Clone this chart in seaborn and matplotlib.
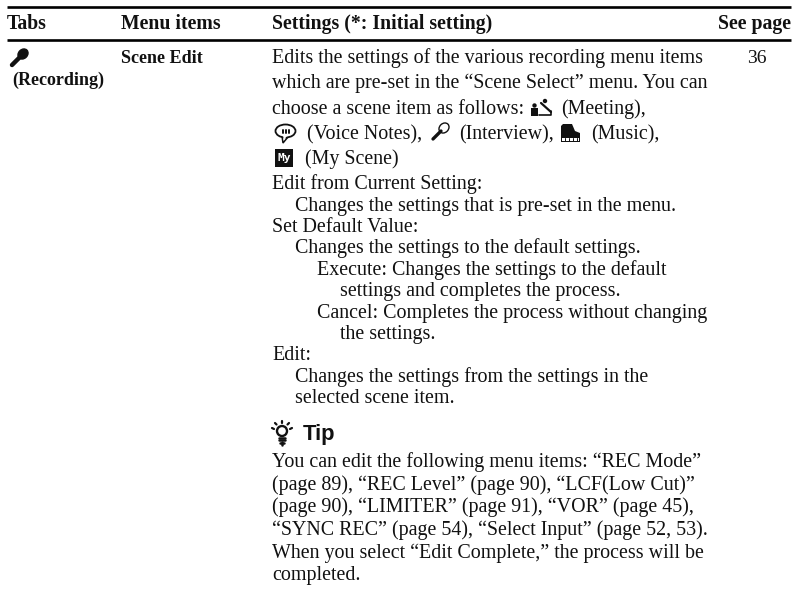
# Settings table page, drawn on one blank axes in page pixels
import matplotlib
matplotlib.use('Agg')
import matplotlib.pyplot as plt
import matplotlib.patches as mpatches
import seaborn as sns

# Table text
headers = ['Tabs', 'Menu items', 'Settings (*: Initial setting)', 'See page']
tab_name = '(Recording)'
menu_item = 'Scene Edit'
see_page = '36'

settings_lines = [
    'Edits the settings of the various recording menu items',
    'which are pre-set in the \u201cScene Select\u201d menu. You can',
    'choose a scene item as follows:',
    'Edit from Current Setting:',
    'Changes the settings that is pre-set in the menu.',
    'Set Default Value:',
    'Changes the settings to the default settings.',
    'Execute: Changes the settings to the default',
    'settings and completes the process.',
    'Cancel: Completes the process without changing',
    'the settings.',
    'Edit:',
    'Changes the settings from the settings in the',
    'selected scene item.',
]
scene_names = ['(Meeting),', '(Voice Notes),', '(Interview),', '(Music),', '(My Scene)']
tip_title = 'Tip'
tip_lines = [
    'You can edit the following menu items: \u201cREC Mode\u201d',
    '(page 89), \u201cREC Level\u201d (page 90), \u201cLCF(Low Cut)\u201d',
    '(page 90), \u201cLIMITER\u201d (page 91), \u201cVOR\u201d (page 45),',
    '\u201cSYNC REC\u201d (page 54), \u201cSelect Input\u201d (page 52, 53).',
    'When you select \u201cEdit Complete,\u201d the process will be',
    'completed.',
]

# Layout in pixels
header_x = [7, 121, 272, 718]
settings_x = [272, 272, 272, 272, 295, 272, 295, 317, 340, 317, 340, 272, 295, 295]
settings_y = [63, 88, 114, 189, 211, 232, 253, 275, 296, 318, 339, 360, 382, 403]
scene_x = [561, 307, 459, 591, 305]
scene_y = [114, 139, 139, 139, 164]
tip_y = [467, 490, 512, 535, 558, 580]

sns.set_theme(style='white')
plt.rcParams['font.family'] = ['Liberation Serif', 'DejaVu Sans']

fig = plt.figure(figsize=(8, 5.89), dpi=100)
ax = fig.add_axes([0, 0, 1, 1])
ax.set_xlim(0, 800)
ax.set_ylim(589, 0)
ax.axis('off')
sns.despine(ax=ax, left=True, bottom=True)

FS = 14.4
ink = '#111111'


def put(x, y, s, **kw):
    kw.setdefault('fontsize', FS)
    kw.setdefault('color', ink)
    ax.text(x, y, s, va='baseline', ha='left', **kw)


def mic(x, y, filled=True):
    # microphone, head top right, handle bottom left
    ax.plot([x + 1, x + 9], [y + 16, y + 8], color=ink, lw=3.2 if filled else 2.4, solid_capstyle='round')
    ax.add_patch(mpatches.Ellipse((x + 12, y + 5), 11, 9, angle=-45, fc=ink if filled else 'white', ec=ink, lw=1))


ax.hlines(6.5, 7, 791, color='black', lw=1.9)
ax.hlines(40, 7, 791, color='black', lw=1.9)

for x, s in zip(header_x, headers):
    put(x, 29, s, fontweight='bold', fontsize=14.2)

mic(11, 49)
put(12, 85, tab_name, fontweight='bold', fontsize=13)
put(121, 63, menu_item, fontweight='bold', fontsize=13)
put(747, 63, see_page, fontsize=14)

for x, y, s in zip(settings_x, settings_y, settings_lines):
    put(x, y, s)
for x, y, s in zip(scene_x, scene_y, scene_names):
    put(x, y, s)

# Meeting icon
ax.add_patch(mpatches.Rectangle((531, 108), 7, 8, fc=ink, ec='none'))
ax.add_patch(mpatches.Circle((534.5, 105.5), 2.2, fc=ink, ec='none'))
ax.plot([539, 551, 551], [115, 115, 111], color=ink, lw=1.2)
ax.plot([541, 551], [103, 112], color=ink, lw=1.6)
ax.add_patch(mpatches.Circle((545, 101), 2.2, fc=ink, ec='none'))

# Voice notes bubble
ax.add_patch(mpatches.Polygon([[282, 136], [283, 143], [288, 137]], fc='white', ec=ink, lw=1.1))
ax.add_patch(mpatches.Ellipse((285.5, 131), 20, 13, fc='white', ec=ink, lw=1.3))
ax.add_patch(mpatches.Polygon([[283, 135], [283.8, 140], [287, 136]], fc='white', ec='none'))
for dx in [-3, 0, 3]:
    ax.plot([285.5 + dx, 285.5 + dx], [129.5, 132.5], color=ink, lw=1.4)

# Interview mic
mic(432, 123, filled=False)

# Piano
ax.add_patch(mpatches.Polygon([[561, 142], [561, 126], [563, 124], [572, 124], [575, 131], [580, 133], [580, 142]],
                              fc=ink, ec='none'))
ax.add_patch(mpatches.Rectangle((562, 138), 17, 2.5, fc='white', ec='none'))
for px in [565, 569, 573, 577]:
    ax.plot([px, px], [138, 140.5], color=ink, lw=0.7)

# My box
ax.add_patch(mpatches.Rectangle((275, 149), 18, 18, fc=ink, ec='none'))
ax.text(284, 158, 'My', color='white', fontsize=8, fontweight='bold', ha='center', va='center',
        family=['DejaVu Sans Mono'])

# Tip bulb
ax.add_patch(mpatches.Circle((282, 431), 5, fc='white', ec=ink, lw=1.7))
ax.plot([279, 285], [437.5, 437.5], color=ink, lw=1.8)
ax.plot([279, 285], [440, 440], color=ink, lw=1.8)
ax.plot([280, 284], [442.5, 442.5], color=ink, lw=1.8)
ax.plot([282, 282], [442, 445], color=ink, lw=1.8)
for x0, y0, x1, y1 in [(272, 428, 274, 429), (275, 423, 276.5, 424.5), (282, 421, 282, 423),
                       (287.5, 424.5, 289, 423), (290, 429, 292, 428)]:
    ax.plot([x0, x1], [y0, y1], color=ink, lw=1.6)

put(303, 440, tip_title, family=['Liberation Sans'], fontweight='bold', fontsize=15.8)

for y, s in zip(tip_y, tip_lines):
    put(272, y, s)

fig.savefig('out.png', dpi=100)
